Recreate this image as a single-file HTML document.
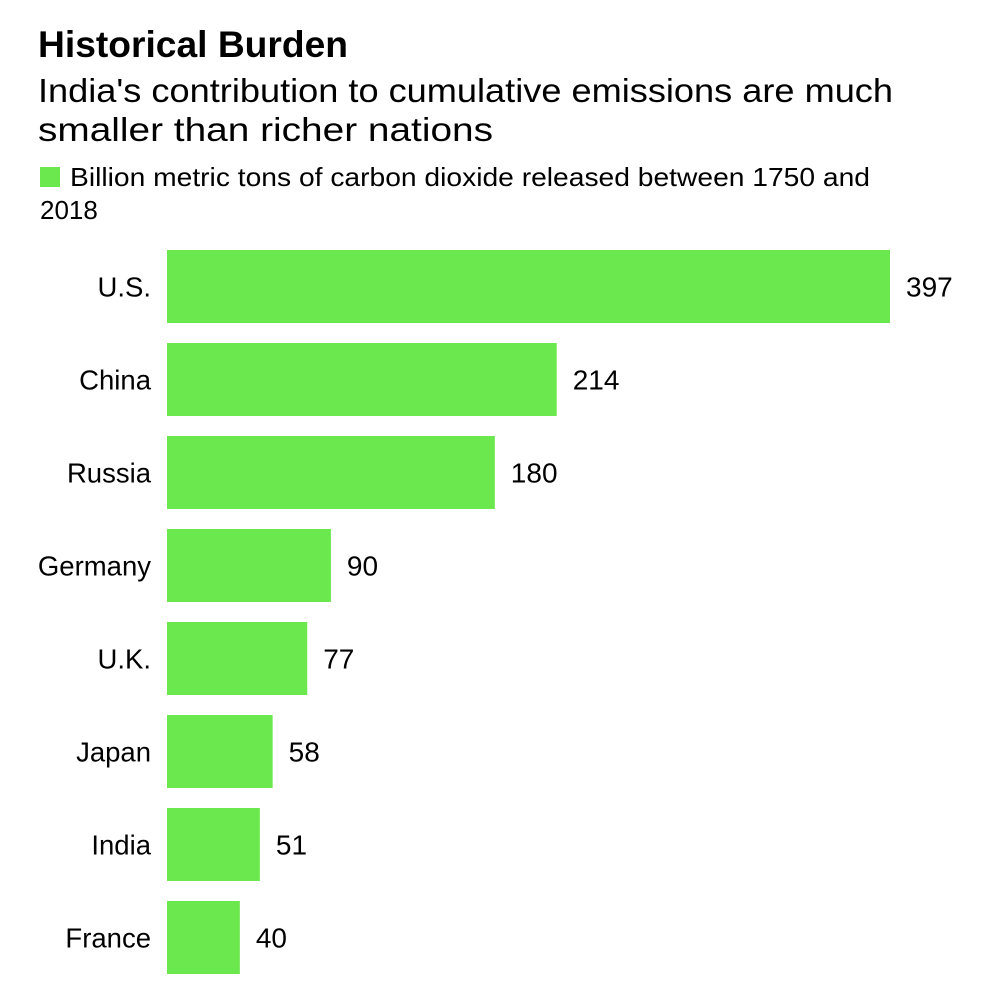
<!DOCTYPE html>
<html><head><meta charset="utf-8"><style>
html,body{margin:0;padding:0;background:#fff;}
svg{display:block;font-family:"Liberation Sans",Arial,sans-serif;}
</style></head><body>
<svg id="chart" width="1000" height="986" viewBox="0 0 1000 986">
<text x="38" y="57" font-size="37" font-weight="bold" textLength="310" lengthAdjust="spacingAndGlyphs" fill="#000">Historical Burden</text>
<text x="38" y="102" font-size="33" textLength="855" lengthAdjust="spacingAndGlyphs" fill="#000">India's contribution to cumulative emissions are much</text>
<text x="38" y="141" font-size="33" textLength="455" lengthAdjust="spacingAndGlyphs" fill="#000">smaller than richer nations</text>
<rect x="40" y="167" width="20" height="20" fill="#6be84e"/>
<text x="70" y="186" font-size="26" textLength="800" lengthAdjust="spacingAndGlyphs" fill="#000">Billion metric tons of carbon dioxide released between 1750 and</text>
<text x="40" y="219" font-size="26" fill="#000">2018</text>
<g id="bars"></g>
</svg>
<script>
const categories = ["U.S.","China","Russia","Germany","U.K.","Japan","India","France"];
const values = [397,214,180,90,77,58,51,40];
const valueLabels = ["397","214","180","90","77","58","51","40"];
const x0 = 167, pxPerUnit = 723/397, yTop = 250, step = 93, barH = 73;
const xs = v => x0 + v * pxPerUnit;
const ys = i => yTop + i * step;
const g = document.getElementById('bars');
const NS = 'http://www.w3.org/2000/svg';
categories.forEach((c, i) => {
  const r = document.createElementNS(NS, 'rect');
  r.setAttribute('x', x0);
  r.setAttribute('y', ys(i));
  r.setAttribute('width', xs(values[i]) - x0);
  r.setAttribute('height', barH);
  r.setAttribute('fill', '#6be84e');
  
  
  g.appendChild(r);
  const l = document.createElementNS(NS, 'text');
  l.setAttribute('x', 151);
  l.setAttribute('y', ys(i) + barH / 2 + 10);
  l.setAttribute('text-anchor', 'end');
  l.setAttribute('font-size', '27.5');
  l.textContent = c;
  
  
  g.appendChild(l);
  const v = document.createElementNS(NS, 'text');
  v.setAttribute('x', xs(values[i]) + 16);
  v.setAttribute('y', ys(i) + barH / 2 + 10);
  v.setAttribute('font-size', '28');
  v.textContent = valueLabels[i];
  
  
  g.appendChild(v);
});
</script>
</body></html>
